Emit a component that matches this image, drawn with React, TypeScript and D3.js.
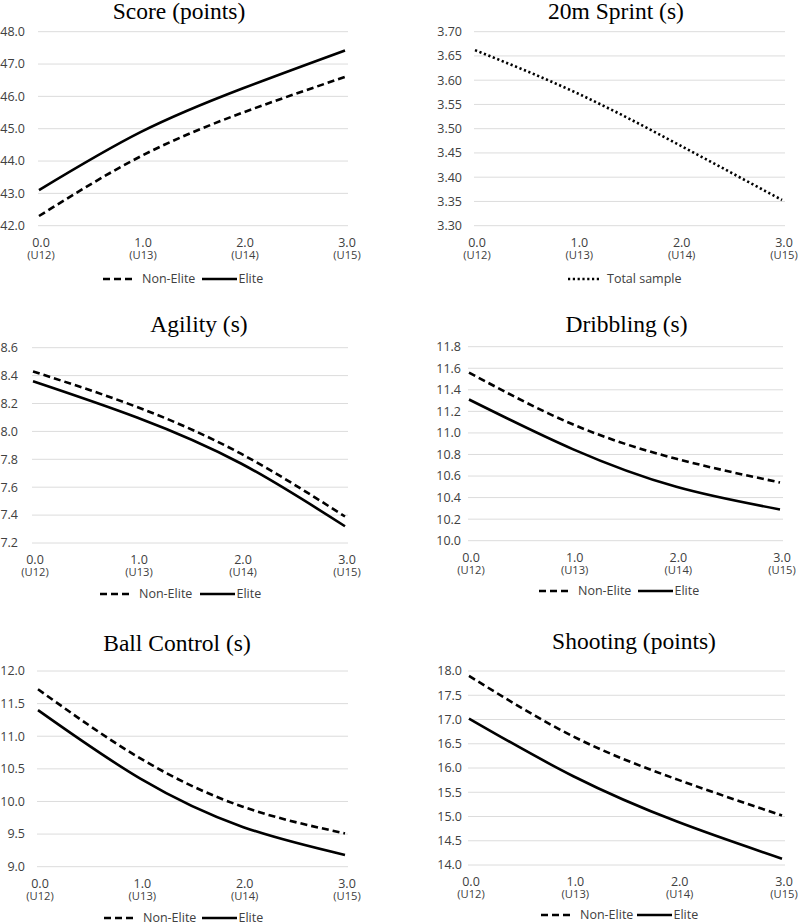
import React from "react";
import * as d3 from "d3";

const xValues = [0, 1, 2, 3];
const xLabels = ["0.0", "1.0", "2.0", "3.0"];
const ageGroups = ["(U12)", "(U13)", "(U14)", "(U15)"];

const scoreNonElite = [42.3, 44.15, 45.5, 46.6];
const scoreElite = [43.1, 44.9, 46.25, 47.42];
const scoreTicks = [42, 43, 44, 45, 46, 47, 48];

const sprintTotal = [3.662, 3.573, 3.466, 3.353];
const sprintTicks = [3.3, 3.35, 3.4, 3.45, 3.5, 3.55, 3.6, 3.65, 3.7];

const agilityNonElite = [8.43, 8.175, 7.84, 7.39];
const agilityElite = [8.36, 8.1, 7.77, 7.32];
const agilityTicks = [7.2, 7.4, 7.6, 7.8, 8.0, 8.2, 8.4, 8.6];

const dribblingNonElite = [11.56, 11.08, 10.76, 10.54];
const dribblingElite = [11.31, 10.85, 10.5, 10.29];
const dribblingTicks = [10.0, 10.2, 10.4, 10.6, 10.8, 11.0, 11.2, 11.4, 11.6, 11.8];

const ballNonElite = [11.72, 10.66, 9.92, 9.51];
const ballElite = [11.4, 10.35, 9.61, 9.18];
const ballTicks = [9.0, 9.5, 10.0, 10.5, 11.0, 11.5, 12.0];

const shootingNonElite = [17.9, 16.65, 15.76, 15.02];
const shootingElite = [17.02, 15.83, 14.89, 14.13];
const shootingTicks = [14.0, 14.5, 15.0, 15.5, 16.0, 16.5, 17.0, 17.5, 18.0];

type Series = { name: string; values: number[]; style: "dash" | "solid" | "dot" };

const panels = [
  {
    title: "Score (points)", ticks: scoreTicks, fmt: ".1f",
    series: [
      { name: "Non-Elite", values: scoreNonElite, style: "dash" },
      { name: "Elite", values: scoreElite, style: "solid" },
    ] as Series[],
    layout: { left: 38, right: 348, top: 31.7, bottom: 225.7, labelRight: 25, titleX: 179, titleY: 18.5, legendY: 279, legendX: [103, 202] },
  },
  {
    title: "20m Sprint (s)", ticks: sprintTicks, fmt: ".2f",
    series: [{ name: "Total sample", values: sprintTotal, style: "dot" }] as Series[],
    layout: { left: 474, right: 785, top: 31.7, bottom: 225.7, labelRight: 462, titleX: 616, titleY: 18.5, legendY: 279, legendX: [568] },
  },
  {
    title: "Agility (s)", ticks: agilityTicks, fmt: ".1f",
    series: [
      { name: "Non-Elite", values: agilityNonElite, style: "dash" },
      { name: "Elite", values: agilityElite, style: "solid" },
    ] as Series[],
    layout: { left: 32, right: 348, top: 347.7, bottom: 543, labelRight: 18, titleX: 199, titleY: 332, legendY: 594, legendX: [100, 200] },
  },
  {
    title: "Dribbling (s)", ticks: dribblingTicks, fmt: ".1f",
    series: [
      { name: "Non-Elite", values: dribblingNonElite, style: "dash" },
      { name: "Elite", values: dribblingElite, style: "solid" },
    ] as Series[],
    layout: { left: 468, right: 783, top: 346.7, bottom: 540.7, labelRight: 461, titleX: 626.5, titleY: 332, legendY: 591, legendX: [539, 638] },
  },
  {
    title: "Ball Control (s)", ticks: ballTicks, fmt: ".1f",
    series: [
      { name: "Non-Elite", values: ballNonElite, style: "dash" },
      { name: "Elite", values: ballElite, style: "solid" },
    ] as Series[],
    layout: { left: 37, right: 348, top: 671, bottom: 866.7, labelRight: 25, titleX: 177, titleY: 651, legendY: 918, legendX: [104, 202] },
  },
  {
    title: "Shooting (points)", ticks: shootingTicks, fmt: ".1f",
    series: [
      { name: "Non-Elite", values: shootingNonElite, style: "dash" },
      { name: "Elite", values: shootingElite, style: "solid" },
    ] as Series[],
    layout: { left: 468, right: 785, top: 671, bottom: 865, labelRight: 462, titleX: 634, titleY: 649, legendY: 915, legendX: [541, 637] },
  },
];

const SANS = "'Open Sans', 'DejaVu Sans', sans-serif";
const SERIF = "'Liberation Serif', 'Times New Roman', serif";
const TEXT = "#404040";

function strokeProps(style: string) {
  if (style === "dash") return { strokeDasharray: "7,4", strokeWidth: 2.6 };
  if (style === "dot") return { strokeDasharray: "2.2,2.6", strokeWidth: 2.6 };
  return { strokeWidth: 2.6 };
}

function Panel({ p }: { p: (typeof panels)[number] }) {
  const L = p.layout;
  const y = d3.scaleLinear().domain([p.ticks[0], p.ticks[p.ticks.length - 1]]).range([L.bottom, L.top]);
  const x = d3.scaleLinear().domain([0, 3]).range([L.left + 1, L.right - 3]);
  const fmt = d3.format(p.fmt);
  const line = d3
    .line<number>()
    .x((_, i) => x(xValues[i]))
    .y((d) => y(d))
    .curve(d3.curveNatural);
  return (
    <g>
      <text x={L.titleX} y={L.titleY} textAnchor="middle" fontFamily={SERIF} fontSize={23.5} fill="#000">
        {p.title}
      </text>
      {p.ticks.map((t) => (
        <g key={t}>
          <line x1={L.left} x2={L.right} y1={y(t)} y2={y(t)} stroke="#dcdcdc" strokeWidth={1} />
          <text x={L.labelRight} y={y(t)} dy="0.35em" textAnchor="end" fontFamily={SANS} fontSize={12.5} fill={TEXT}>
            {fmt(t)}
          </text>
        </g>
      ))}
      {xValues.map((v, i) => (
        <g key={v}>
          <text x={x(v) + 2} y={L.bottom + 16.5} dy="0.35em" textAnchor="middle" fontFamily={SANS} fontSize={12.5} fill={TEXT}>
            {xLabels[i]}
          </text>
          <text x={x(v) + 2} y={L.bottom + 29} dy="0.35em" textAnchor="middle" fontFamily={SANS} fontSize={11.2} fill={TEXT}>
            {ageGroups[i]}
          </text>
        </g>
      ))}
      {p.series.map((s) => (
        <path key={s.name} d={line(s.values) || ""} fill="none" stroke="#000" {...strokeProps(s.style)} />
      ))}
      {p.series.map((s, i) => {
        const lx = L.legendX[i];
        const w = s.style === "solid" ? 35 : 32;
        return (
          <g key={"lg" + s.name}>
            <line x1={lx} x2={lx + w} y1={L.legendY} y2={L.legendY} stroke="#000" {...strokeProps(s.style)} />
            <text x={lx + w + (s.style === "solid" ? 1.5 : 7)} y={L.legendY} dy="0.35em" fontFamily={SANS} fontSize={12.5} fill={TEXT}>
              {s.name}
            </text>
          </g>
        );
      })}
    </g>
  );
}

export default function App() {
  return (
    <svg width={800} height={924} style={{ position: "absolute", left: 0, top: 0, background: "#fff" }}>
      <rect width={800} height={924} fill="#fff" />
      {panels.map((p) => (
        <Panel key={p.title} p={p} />
      ))}
    </svg>
  );
}
